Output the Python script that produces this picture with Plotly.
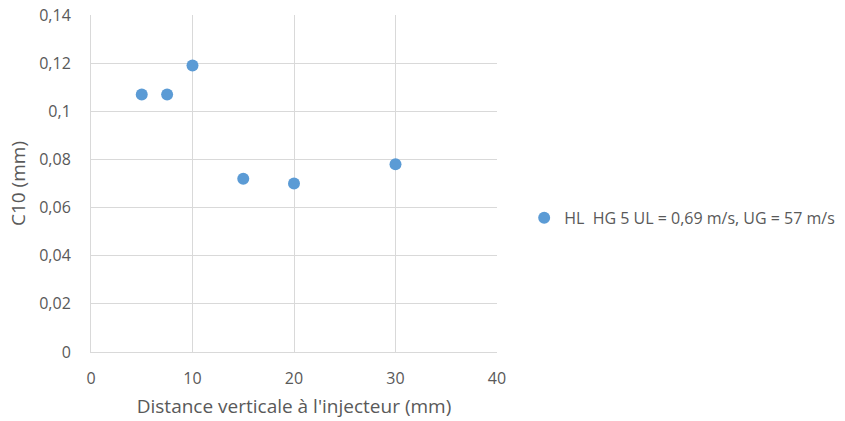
import plotly.graph_objects as go

x_vals = [5, 7.5, 10, 15, 20, 30]
y_vals = [0.107, 0.107, 0.119, 0.072, 0.070, 0.078]
series_name = "HL  HG 5 UL = 0,69 m/s, UG = 57 m/s"
x_ticks = [0, 10, 20, 30, 40]
y_ticks = [0, 0.02, 0.04, 0.06, 0.08, 0.1, 0.12, 0.14]
y_tick_labels = ["0", "0,02", "0,04", "0,06", "0,08", "0,1", "0,12", "0,14"]

font_family = "Open Sans, Carlito, Liberation Sans, sans-serif"
grid_color = "#D9D9D9"
text_color = "#595959"

fig = go.Figure()
fig.add_trace(go.Scatter(
    x=x_vals, y=y_vals, mode="markers", name=series_name,
    marker=dict(color="#5B9BD5", size=12),
    showlegend=True,
))

fig.update_layout(
    width=845, height=421,
    margin=dict(l=91, r=0, t=15, b=69),
    paper_bgcolor="white", plot_bgcolor="white",
    font=dict(family=font_family, color=text_color, size=16),
    showlegend=True,
    legend=dict(x=0.5745, y=0.398, xanchor="left", yanchor="middle",
                font=dict(size=16, color=text_color),
                itemwidth=30, tracegroupgap=0),
    xaxis=dict(domain=[0, 406 / 754], range=[0, 40], tickvals=x_ticks, ticktext=[str(v) for v in x_ticks],
               showgrid=True, gridcolor=grid_color, gridwidth=1,
               zeroline=False, showline=True, linecolor=grid_color, linewidth=1,
               ticks="", automargin=False, ticklabelstandoff=12, ticklabeloverflow="allow",
               title=dict(text="Distance verticale à l'injecteur (mm)", font=dict(size=19, color=text_color), standoff=11),
               tickfont=dict(size=16, color=text_color)),
    yaxis=dict(range=[0, 0.14], tickvals=y_ticks, ticktext=y_tick_labels,
               showgrid=True, gridcolor=grid_color, gridwidth=1,
               zeroline=False, showline=True, linecolor=grid_color, linewidth=1,
               ticks="", automargin=False, ticklabelstandoff=16, ticklabeloverflow="allow",
               title=dict(text="C10 (mm)", font=dict(size=19, color=text_color), standoff=8),
               tickfont=dict(size=16, color=text_color)),
)

fig.write_html("out.html", config={"displayModeBar": False},
               post_script="document.body.style.margin='0';")
